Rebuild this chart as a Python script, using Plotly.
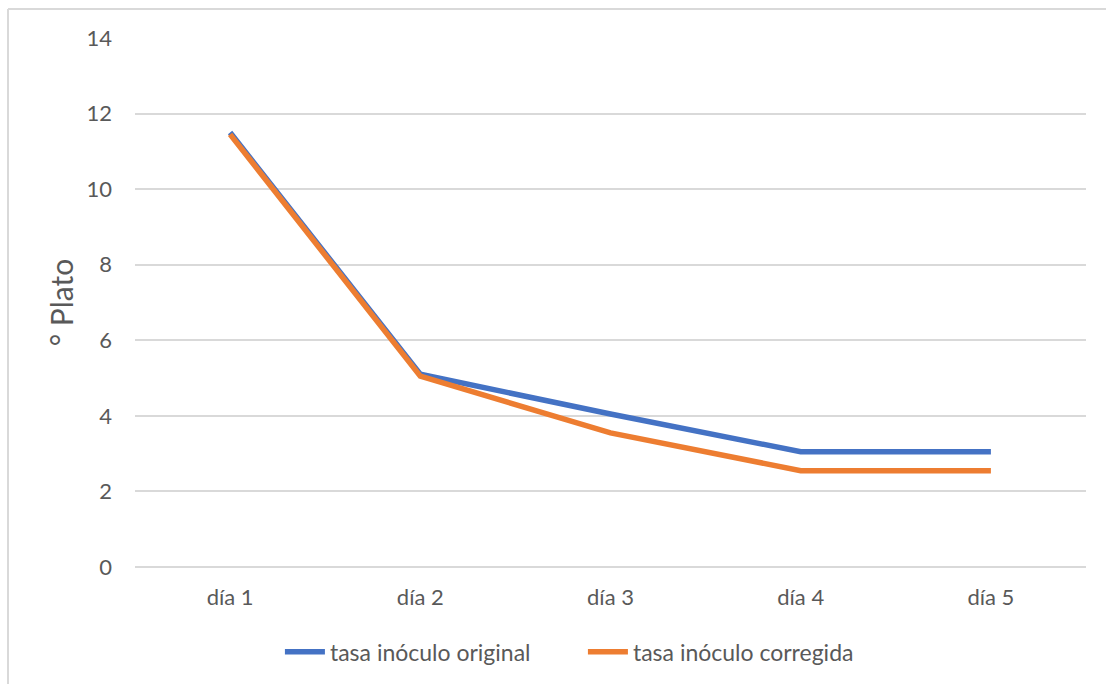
import plotly.graph_objects as go

# Fermentation readings (°Plato) per day
dias = ["día 1", "día 2", "día 3", "día 4", "día 5"]
original = [11.5, 5.1, 4.05, 3.05, 3.05]
corregida = [11.45, 5.05, 3.55, 2.55, 2.55]

FONT = "Lato, 'Open Sans', sans-serif"
TXT = "#595959"
GRID = "#D9D9D9"

fig = go.Figure()
fig.add_trace(go.Scatter(x=dias, y=original, mode="lines", name="tasa inóculo original",
                         line=dict(color="#4472C4", width=5.5)))
fig.add_trace(go.Scatter(x=dias, y=corregida, mode="lines", name="tasa inóculo corregida",
                         line=dict(color="#ED7D31", width=5.5)))

fig.update_layout(
    width=1106, height=684,
    margin=dict(l=135, r=20, t=38, b=116),
    paper_bgcolor="white", plot_bgcolor="white",
    font=dict(family=FONT, color=TXT, size=22),
    showlegend=True,
    legend=dict(orientation="h", x=0.471, xanchor="center", y=-0.158, yanchor="middle",
                font=dict(size=23, color=TXT), entrywidth=248, entrywidthmode="pixels",
                itemwidth=40, tracegroupgap=0),
    xaxis=dict(range=[-0.5, 4.5], showgrid=False, showline=False, zeroline=False,
               tickfont=dict(size=22, color=TXT), ticks="", ticklabelstandoff=15),
    yaxis=dict(range=[0, 14], dtick=2, showgrid=True, gridcolor=GRID, gridwidth=2,
               zeroline=True, zerolinecolor=GRID, zerolinewidth=2, showline=False,
               tickfont=dict(size=22, color=TXT), ticks="", ticklabelstandoff=22,
               title=dict(text="° Plato", font=dict(size=30, color=TXT), standoff=3)),
    shapes=[
        dict(type="line", xref="paper", yref="paper",
             x0=(8 - 135) / 951, x1=(8 - 135) / 951, y0=(568 - 9) / 530, y1=(568 - 690) / 530,
             line=dict(color=GRID, width=2)),
        dict(type="line", xref="paper", yref="paper",
             x0=(8 - 135) / 951, x1=(1110 - 135) / 951, y0=(568 - 9) / 530, y1=(568 - 9) / 530,
             line=dict(color=GRID, width=2)),
    ],
)

fig.write_html("out.html")
